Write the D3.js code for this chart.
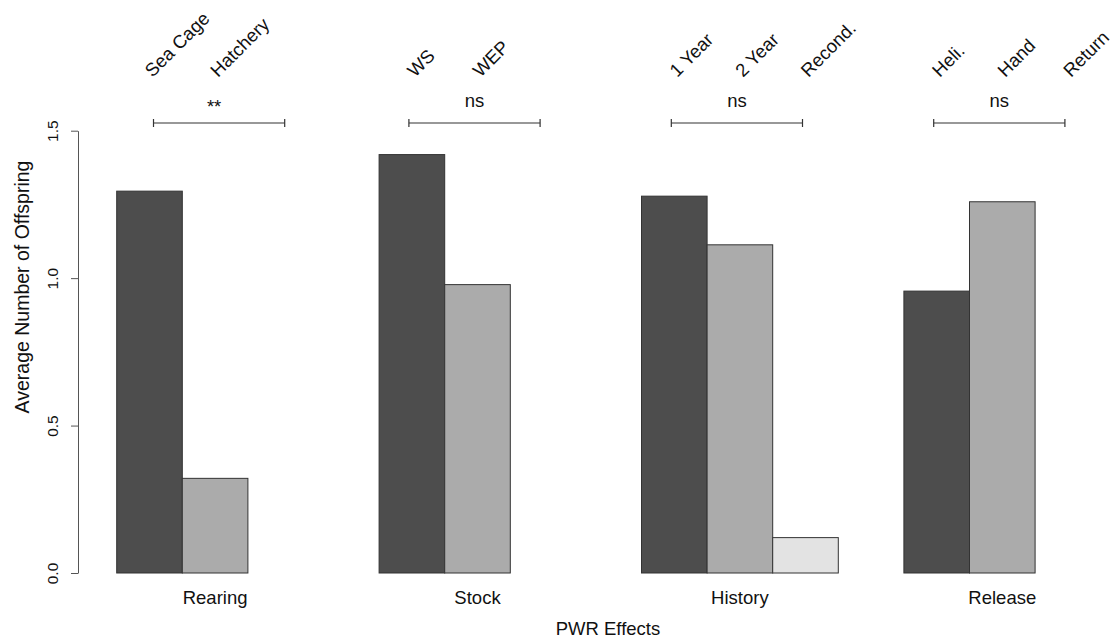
<!DOCTYPE html>
<html>
<head>
<meta charset="utf-8">
<script src="https://cdn.jsdelivr.net/npm/d3@7"></script>
<style>
  body { margin: 0; background: #fff; }
  text { font-family: "Liberation Sans", Arial, sans-serif; fill: #111; }
</style>
</head>
<body>
<div id="chart"></div>
<script>
var svgWidth = 1119;
var svgHeight = 639;

// groups along the x axis, each with 3 slots (some empty)
var groups = ["Rearing", "Stock", "History", "Release"];
var levelLabels = [
  ["Sea Cage", "Hatchery", ""],
  ["WS", "WEP"],
  ["1 Year", "2 Year", "Recond."],
  ["Heli.", "Hand", "Return"]
];
var levelValues = [
  [1.295, 0.321, null],
  [1.419, 0.978, null],
  [1.278, 1.113, 0.12],
  [0.956, 1.259, null]
];
var sigLabels = ["**", "ns", "ns", "ns"];
var yTicks = [0, 0.5, 1.0, 1.5];
var fills = ["#4d4d4d", "#ababab", "#e3e3e3"];

var svg = d3.select("#chart")
  .append("svg")
  .attr("width", svgWidth)
  .attr("height", svgHeight);

// x in slot units: 3 slots per group + 1 gap
var xScale = d3.scaleLinear().domain([0, 15]).range([116.7, 1100.7]);
var yScale = d3.scaleLinear().domain([0, 1.5]).range([573, 130.7]);
var bw = xScale(1) - xScale(0);

var bars = [];
levelValues.forEach(function(vals, g) {
  vals.forEach(function(v, i) {
    if (v != null) bars.push({ slot: g * 4 + i, value: v, level: i });
  });
});

svg.append("g").selectAll("rect")
  .data(bars)
  .enter().append("rect")
  .attr("x", d => xScale(d.slot))
  .attr("y", d => yScale(d.value))
  .attr("width", bw)
  .attr("height", d => yScale(0) - yScale(d.value))
  .attr("fill", d => fills[d.level])
  .attr("stroke", "#333")
  .attr("stroke-width", 1);

// y axis
var leftAxis = d3.axisLeft(yScale)
  .tickValues(yTicks)
  .tickFormat(d3.format(".1f"))
  .tickSize(7)
  .tickSizeOuter(0);

var yAxis = svg.append("g")
  .attr("transform", "translate(78,0)")
  .call(leftAxis);
yAxis.select(".domain").attr("stroke", "#555");
yAxis.selectAll(".tick line").attr("stroke", "#555");
yAxis.selectAll(".tick text")
  .attr("x", 0).attr("y", 0).attr("dy", null)
  .attr("transform", "translate(-20,0) rotate(-90)")
  .attr("text-anchor", "middle")
  .style("font-size", "15.5px")
  .style("font-family", "Liberation Sans, Arial, sans-serif")
  .attr("fill", "#111");

// rotated level labels on top
var topLabels = [];
levelLabels.forEach(function(labs, g) {
  labs.forEach(function(l, i) {
    if (l) topLabels.push({ slot: g * 4 + i, label: l });
  });
});
svg.append("g").selectAll("text")
  .data(topLabels)
  .enter().append("text")
  .attr("transform", d => "translate(" + (xScale(d.slot + 0.5) + 3) + ",78) rotate(-45)")
  .style("font-size", "18.5px")
  .text(d => d.label);

// significance brackets (first one sits a little to the right)
var sig = svg.append("g");
groups.forEach(function(g, k) {
  var c = xScale(k * 4 + 1.5) + (k === 0 ? 4 : -3);
  sig.append("line")
    .attr("x1", c - bw).attr("x2", c + bw)
    .attr("y1", 123).attr("y2", 123)
    .attr("stroke", "#333").attr("stroke-width", 1.2);
  [c - bw, c + bw].forEach(function(x) {
    sig.append("line")
      .attr("x1", x).attr("x2", x)
      .attr("y1", 119).attr("y2", 127)
      .attr("stroke", "#333").attr("stroke-width", 1.2);
  });
  var stars = sigLabels[k].indexOf("*") >= 0;
  sig.append("text")
    .attr("x", stars ? c - 5 : c)
    .attr("y", stars ? 113 : 107)
    .attr("text-anchor", "middle")
    .style("font-size", "18.5px")
    .text(sigLabels[k]);
});

// group labels
svg.append("g").selectAll("text")
  .data(groups)
  .enter().append("text")
  .attr("x", (d, k) => xScale(k * 4 + 1.5))
  .attr("y", 604)
  .attr("text-anchor", "middle")
  .style("font-size", "18.5px")
  .text(d => d);

// axis titles
svg.append("text")
  .attr("x", 608).attr("y", 635)
  .attr("text-anchor", "middle")
  .style("font-size", "18.5px")
  .text("PWR Effects");

svg.append("text")
  .attr("transform", "translate(29,287) rotate(-90)")
  .attr("text-anchor", "middle")
  .style("font-size", "19.5px")
  .text("Average Number of Offspring");
</script>
</body>
</html>
